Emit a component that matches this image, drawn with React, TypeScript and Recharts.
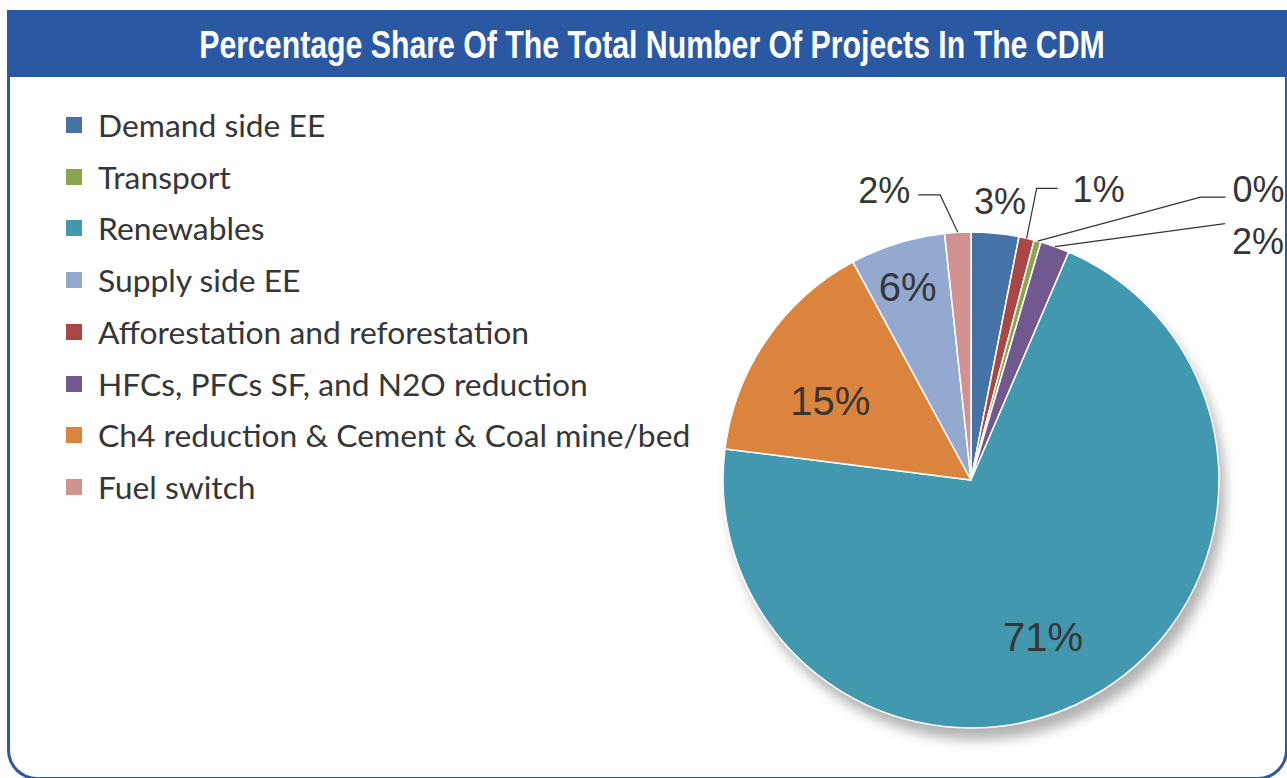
import { Legend, Pie, PieChart, Cell } from "recharts";

// slices in clockwise order starting at 12 o'clock
const categories = [
  "Demand side EE",
  "Afforestation and reforestation",
  "Transport",
  "HFCs, PFCs SF, and N2O reduction",
  "Renewables",
  "Ch4 reduction & Cement & Coal mine/bed",
  "Supply side EE",
  "Fuel switch",
];
const shares = [3.1, 1.0, 0.45, 1.9, 70.55, 15.1, 6.2, 1.7];

const legendOrder = [
  "Demand side EE",
  "Transport",
  "Renewables",
  "Supply side EE",
  "Afforestation and reforestation",
  "HFCs, PFCs SF, and N2O reduction",
  "Ch4 reduction & Cement & Coal mine/bed",
  "Fuel switch",
];

const data = categories.map((name, i) => ({ name, value: shares[i] }));

const COLORS: Record<string, string> = {
  "Demand side EE": "#4572a7",
  Transport: "#89a54e",
  Renewables: "#4198af",
  "Supply side EE": "#93a9cf",
  "Afforestation and reforestation": "#aa4643",
  "HFCs, PFCs SF, and N2O reduction": "#71588f",
  "Ch4 reduction & Cement & Coal mine/bed": "#db843d",
  "Fuel switch": "#d19392",
};

const BLUE = "#2a58a3";
const TEXT = "#363636";

// label placement: inside labels in polar terms, outside ones relative to the slice's rim point
type LabelPos =
  | { inside: true; rf: number; da: number }
  | {
      inside: false;
      elbow?: [number, number];
      end?: [number, number];
      text: [number, number];
      anchor: "start" | "middle" | "end";
    };

const LABEL_POS: Record<string, LabelPos> = {
  "Demand side EE": { inside: false, text: [5, -19], anchor: "middle" },
  "Afforestation and reforestation": { inside: false, elbow: [10, -50], end: [31, -50], text: [46, -36], anchor: "start" },
  Transport: { inside: false, elbow: [163, -44], end: [188, -44], text: [195, -39], anchor: "start" },
  "HFCs, PFCs SF, and N2O reduction": { inside: false, end: [170, -23], text: [177, 7], anchor: "start" },
  Renewables: { inside: true, rf: 0.698, da: 5.2 },
  "Ch4 reduction & Cement & Coal mine/bed": { inside: true, rf: 0.651, da: -5 },
  "Supply side EE": { inside: true, rf: 0.818, da: -0.9 },
  "Fuel switch": { inside: false, elbow: [-17.6, -37.4], end: [-39.6, -37.4], text: [-47.6, -29], anchor: "end" },
};

const renderLabel = (props: any) => {
  const { cx, cy, midAngle, outerRadius, index, value } = props;
  const pos = LABEL_POS[categories[index]];
  const text = `${Math.round(value)}%`;
  const theta = 90 - midAngle;
  if (pos.inside) {
    const a = ((theta + pos.da) * Math.PI) / 180;
    const r = outerRadius * pos.rf;
    return (
      <text
        key={`l${index}`}
        x={cx + r * Math.sin(a)}
        y={cy - r * Math.cos(a)}
        textAnchor="middle"
        dominantBaseline="central"
        fill={TEXT}
        fontSize={40}
        fontFamily="'Liberation Sans', Arial, sans-serif"
      >
        {text}
      </text>
    );
  }
  const t = (theta * Math.PI) / 180;
  const ex = cx + outerRadius * Math.sin(t);
  const ey = cy - outerRadius * Math.cos(t);
  const pts: string[] = [`${ex},${ey}`];
  if (pos.elbow) pts.push(`${ex + pos.elbow[0]},${ey + pos.elbow[1]}`);
  if (pos.end) pts.push(`${ex + pos.end[0]},${ey + pos.end[1]}`);
  return (
    <g key={`l${index}`}>
      {pts.length > 1 && <polyline points={pts.join(" ")} fill="none" stroke="#333" strokeWidth={1.2} />}
      <text
        x={ex + pos.text[0]}
        y={ey + pos.text[1]}
        textAnchor={pos.anchor}
        fill={TEXT}
        fontSize={36}
        fontFamily="'Liberation Sans', Arial, sans-serif"
      >
        {text}
      </text>
    </g>
  );
};

const renderLegend = () => (
  <div style={{ position: "relative" }}>
    {legendOrder.map((name, i) => (
      <div
        key={name}
        style={{
          position: "absolute",
          left: 0,
          top: i * 51.7,
          height: 30,
          display: "flex",
          alignItems: "center",
          whiteSpace: "nowrap",
        }}
      >
        <span style={{ width: 16, height: 16, background: COLORS[name], display: "inline-block" }} />
        <span
          style={{
            marginLeft: 16,
            fontFamily: "Lato, 'Open Sans', sans-serif",
            fontSize: 31.8,
            color: TEXT,
            lineHeight: "30px",
          }}
        >
          {name}
        </span>
      </div>
    ))}
  </div>
);

export default function App() {
  return (
    <div style={{ position: "relative", width: 1287, height: 778, overflow: "hidden", background: "#fff" }}>
      <style>{`body{margin:0}.pie-shadow{filter:url(#pieShadow)}`}</style>
      <svg width={0} height={0} style={{ position: "absolute" }}>
        <defs>
          <filter id="pieShadow" x="-20%" y="-20%" width="140%" height="140%">
            <feGaussianBlur in="SourceAlpha" stdDeviation={4} />
            <feOffset dx={3} dy={6} />
            <feComponentTransfer>
              <feFuncA type="linear" slope={0.55} />
            </feComponentTransfer>
          </filter>
        </defs>
      </svg>
      <div
        style={{
          position: "absolute",
          left: 7,
          top: 10,
          width: 1281,
          height: 770,
          border: `3px solid ${BLUE}`,
          borderTop: "none",
          borderRadius: "0 0 30px 30px",
          boxSizing: "border-box",
        }}
      />
      <div style={{ position: "absolute", left: 7, top: 10, width: 1280, height: 67, background: BLUE }} />
      <svg width={1287} height={100} style={{ position: "absolute", left: 0, top: 0 }}>
        <text
          transform="translate(652,58) scale(0.89,1.16)"
          x={0}
          y={0}
          textAnchor="middle"
          fill="#fff"
          fontSize={34}
          fontWeight={700}
          fontFamily="'Liberation Sans Narrow', 'Liberation Sans', sans-serif"
        >
          Percentage Share Of The Total Number Of Projects In The CDM
        </text>
      </svg>
      <div style={{ position: "absolute", left: 0, top: 0 }}>
        <PieChart width={1287} height={778} margin={{ top: 0, right: 0, bottom: 0, left: 0 }}>
          <Pie
            data={data}
            dataKey="value"
            nameKey="name"
            cx={971}
            cy={480}
            outerRadius={248}
            startAngle={90}
            endAngle={-270}
            fill="#000"
            stroke="none"
            className="pie-shadow"
            label={false}
            labelLine={false}
            legendType="none"
            isAnimationActive={false}
          />
          <Pie
            data={data}
            dataKey="value"
            nameKey="name"
            cx={971}
            cy={480}
            outerRadius={248}
            startAngle={90}
            endAngle={-270}
            stroke="#fff"
            strokeWidth={1.5}
            label={renderLabel}
            labelLine={false}
            isAnimationActive={false}
          >
            {data.map((d) => (
              <Cell key={d.name} fill={COLORS[d.name]} />
            ))}
          </Pie>
          <Legend
            layout="horizontal"
            align="center"
            verticalAlign="middle"
            content={renderLegend}
            wrapperStyle={{ left: 66, top: 110, width: 660, height: 400 }}
          />
        </PieChart>
      </div>
    </div>
  );
}
